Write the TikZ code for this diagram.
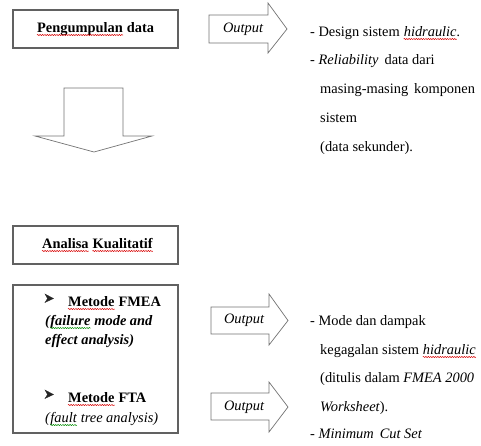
\documentclass[tikz,border=0pt]{standalone}
\usepackage{fontspec}
\setmainfont{Liberation Serif}
\usetikzlibrary{decorations.pathmorphing}
\begin{document}
\begin{tikzpicture}[x=1pt,y=-1pt,
  every node/.style={font=\fontsize{14.4}{17}\selectfont, inner sep=0pt},
  boxst/.style={draw=black!62, line width=1.3pt, minimum width=165pt},
  arr/.style={draw=black!55, line width=0.7pt, fill=white},
  txt/.style={anchor=base west},
  bf/.style={font=\fontsize{14.4}{17}\selectfont\bfseries},
  it/.style={font=\fontsize{14.4}{17}\selectfont\itshape},
  bi/.style={font=\fontsize{14.4}{17}\selectfont\bfseries\itshape},
  bullet/.style={fill=black!85, draw=black!85, line width=0.3pt, line join=miter},
  wvr/.style={draw=red!85!black, line width=0.5pt, decorate,
    decoration={snake, amplitude=0.6pt, segment length=2.4pt}},
  wvg/.style={wvr, draw=green!55!black}]
\useasboundingbox (0,0) rectangle (481,445);
% boxes
\node[boxst, minimum height=38pt] (b1) at (95.5,29) {};
\node[txt,bf] (t1a) at (37,32) {Pengumpulan};
\node[txt,bf] (t1b) at ([xshift=3.6pt]t1a.base east) {data};
\node[boxst, minimum height=38pt] (b2) at (95.5,245) {};
\node[txt,bf] (t2a) at (42,248) {Analisa};
\node[txt,bf] (t2b) at ([xshift=3.6pt]t2a.base east) {Kualitatif};
\node[boxst, minimum height=148pt] (b3) at (95.5,359) {};
% bullets
\draw[bullet] (45,294) -- (53.5,298.5) -- (45,302.5) -- (47.5,298.5) -- cycle;
\node[txt,bf] (f1a) at (68,306) {Metode};
\node[txt,bf] (f1c) at ([xshift=3.6pt]f1a.base east) {FMEA};
\node[txt,bi] (f2a) at (45,325) {(};
\node[txt,bi] (f2b) at (f2a.base east) {failure};
\node[txt,bi] (f2c) at ([xshift=3.6pt]f2b.base east) {mode and};
\node[txt,bi] (f3) at (45,344) {effect analysis)};
\draw[bullet] (45,390) -- (53.5,394.5) -- (45,398.5) -- (47.5,394.5) -- cycle;
\node[txt,bf] (f4a) at (68,402) {Metode};
\node[txt,bf] (f4c) at ([xshift=3.6pt]f4a.base east) {FTA};
\node[txt,it] (f5a) at (45,422) {(};
\node[txt,it] (f5b) at (f5a.base east) {fault};
\node[txt,it] (f5c) at ([xshift=3.6pt]f5b.base east) {tree analysis)};
% down arrow
\draw[arr] (64,88) -- (123,88) -- (123,136) -- (152,136) -- (94,152) -- (35,136) -- (64,136) -- cycle;
% output arrows
\draw[arr] (209,15) -- (268,15) -- (268,3) -- (287,29) -- (268,53) -- (268,43) -- (209,43) -- cycle;
\node[it] (o1) at (243,29) {Output};
\draw[arr] (211,307) -- (269,307) -- (269,294) -- (288,320.5) -- (269,345) -- (269,334) -- (211,334) -- cycle;
\node[it] (o2) at (244,320.5) {Output};
\draw[arr] (211,393) -- (269,393) -- (269,382) -- (288,407) -- (269,432) -- (269,420) -- (211,420) -- cycle;
\node[it] (o3) at (244,407) {Output};
% right texts
\node[txt] (r1a) at (310,36) {- Design sistem};
\node[txt,it] (r1b) at ([xshift=3.6pt]r1a.base east) {hidraulic};
\node[txt,it] (r1c) at (r1b.base east) {.};
\node[txt] (r2) at (310,64) {- \textit{Reliability}\, data dari};
\node[txt] (r3) at (320,93) {masing-masing\, komponen};
\node[txt] (r4) at (320,122) {sistem};
\node[txt] (r5) at (320,151) {(data sekunder).};
\node[txt] (s1) at (310,325) {- Mode dan dampak};
\node[txt] (s2a) at (320,354) {kegagalan sistem};
\node[txt,it] (s2b) at ([xshift=3.6pt]s2a.base east) {hidraulic};
\node[txt] (s3) at (320,382) {(ditulis dalam \textit{FMEA 2000}};
\node[txt] (s4) at (320,411) {\textit{Worksheet}).};
\node[txt] (s5) at (310,438) {- \textit{Minimum\, Cut Set}};
% spelling marks
\foreach \w in {t1a,t2a,t2b,f1a,f4a,r1b,s2b}
  \draw[wvr] ([yshift=-3pt]\w.base west) -- ([yshift=-3pt]\w.base east);
\foreach \w in {f2b,f5b}
  \draw[wvg] ([yshift=-3pt]\w.base west) -- ([yshift=-3pt]\w.base east);
\end{tikzpicture}
\end{document}
